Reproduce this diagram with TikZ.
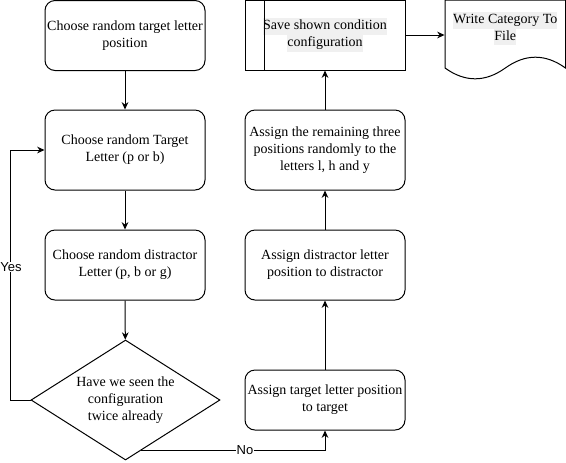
\documentclass[tikz,border=0pt]{standalone}
\usepackage{fontspec}
\setmainfont{Liberation Serif}
\setsansfont{Liberation Sans}
\usetikzlibrary{shapes.geometric,arrows.meta,calc}
\definecolor{hlgray}{HTML}{F0F0F0}
\newcommand{\hlline}[1]{{\setlength{\fboxsep}{0pt}\colorbox{hlgray}{\strut #1}}}
\begin{document}
\begin{tikzpicture}[x=0.75pt,y=-0.75pt,line width=0.75pt,
  txt/.style={align=center, inner sep=0pt, font=\fontsize{10.5}{12.6}\selectfont},
  box/.style={txt, draw, rounded corners=7.5pt, minimum width=120pt},
  proc/.style={txt, draw, minimum width=120pt},
  dec/.style={draw, diamond, minimum width=141.75pt, minimum height=90pt, inner sep=0pt},
  arr/.style={-{Stealth[length=5.5pt,width=5pt]}},
  lbl/.style={fill=white, font=\sffamily\fontsize{9.75}{11}\selectfont, inner sep=0.5pt}
]
\useasboundingbox (0,0) rectangle (566,462);

% left column
\node[box, minimum height=52.5pt] (b1) at (125,35.5) {Choose random target letter\\position};
\node[box, minimum height=60pt] (b2) at (125,150) {Choose random Target\\Letter (p or b)};
\node[box, minimum height=52.5pt] (b3) at (125,265) {Choose random distractor\\Letter (p, b or g)};
\node[dec] (d) at (125.5,400) {};
\node[txt] (dt) at (d.center) {Have we seen the\\configuration\\twice already};

% right column
\node[box, minimum height=45pt] (t) at (325,400) {Assign target letter position\\to target};
\node[box, minimum height=52.5pt] (ds) at (325,265) {Assign distractor letter\\position to distractor};
\node[box, minimum height=60pt] (r) at (325,150) {Assign the remaining three\\positions randomly to the\\letters l, h and y};
\node[proc, minimum height=52.5pt] (s) at (325,35) {\hlline{Save shown condition}\\\hlline{configuration}};
\draw ($(s.north west)+(20,0)$) -- ($(s.south west)+(20,0)$);

% document
\node[txt, minimum width=90.4pt, minimum height=42pt] (doc) at (505.3,28.5) {\hlline{Write Category To}\\\hlline{File}};
\draw (445,0) -- (565.5,0) -- (565.5,68)
  .. controls (545.4,53.6) and (525.4,53.6) .. (505.3,68)
  .. controls (485.2,82.4) and (465.1,82.4) .. (445,68) -- cycle;

% connectors
\draw[arr] (b1) -- (b2);
\draw[arr] (b2) -- (b3);
\draw[arr] (b3) -- (d);
\coordinate (yesc) at (10,400);
\draw[arr] (d.west) -- (yesc) |- (b2.west);
\node[lbl] (yes) at (11,267) {Yes};
\coordinate (nostart) at ($(d.south)!0.1667!(d.east)$);
\draw[arr] (nostart) -| (t.south);
\node[lbl] (no) at (245,450.5) {No};
\draw[arr] (t) -- (ds);
\draw[arr] (ds) -- (r);
\draw[arr] (r) -- (s);
\draw[arr] (s.east) -- (s.east -| doc.west);
\end{tikzpicture}
\end{document}
